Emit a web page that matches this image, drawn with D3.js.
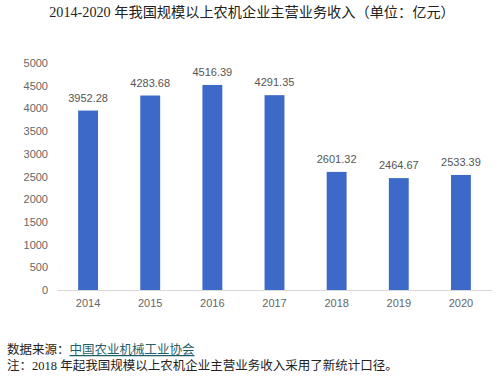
<!DOCTYPE html>
<html><head><meta charset="utf-8">
<script src="https://cdn.jsdelivr.net/npm/d3@7"></script>
<style>body{margin:0;background:#fff}svg{display:block}</style>
</head><body>
<svg id="c" width="500" height="380"></svg>
<script>
const years = ["2014","2015","2016","2017","2018","2019","2020"];
const revenue = [3952.28,4283.68,4516.39,4291.35,2601.32,2464.67,2533.39];
const yTicks = [0,500,1000,1500,2000,2500,3000,3500,4000,4500,5000];
const titleText = "2014-2020 年我国规模以上农机企业主营业务收入（单位：亿元）";
const sourceLabel = "数据来源：";
const sourceName = "中国农业机械工业协会";
const noteText = "注：2018 年起我国规模以上农机企业主营业务收入采用了新统计口径。";

const svg = d3.select("#c");
const x = d3.scaleBand().domain(years).range([57,492]).paddingInner(0.68).paddingOuter(0.34);
const y = d3.scaleLinear().domain([0,5000]).range([290,63]);
const font = "'Liberation Sans', 'Noto Sans CJK SC', sans-serif";
const serif = "'Liberation Serif', 'Noto Sans CJK SC', serif";

svg.append("text").attr("x",252).attr("y",17).attr("text-anchor","middle")
  .attr("font-family",serif).attr("font-size",14.2).attr("fill","#222").text(titleText);

const ya = svg.append("g").attr("transform","translate(48,0)")
  .call(d3.axisLeft(y).tickValues(yTicks).tickFormat(d3.format("d")).tickSize(0).tickPadding(0));
ya.select(".domain").remove();
ya.selectAll("text").attr("font-family",font).attr("font-size",11).attr("fill","#666");

const xa = svg.append("g").attr("transform","translate(0,290)")
  .call(d3.axisBottom(x).tickSize(0).tickPadding(9));
xa.select(".domain").attr("stroke","#d9d9d9");
xa.selectAll("text").attr("font-family",font).attr("font-size",11).attr("fill","#666");

svg.append("g").selectAll("rect").data(revenue).join("rect")
  .attr("x",(d,i)=>x(years[i])).attr("width",x.bandwidth())
  .attr("y",d=>y(d)).attr("height",d=>y(0)-y(d)).attr("fill","#3d69c9");

svg.append("g").selectAll("text").data(revenue).join("text")
  .attr("x",(d,i)=>x(years[i])+x.bandwidth()/2).attr("y",d=>y(d)-9)
  .attr("text-anchor","middle").attr("font-family",font).attr("font-size",11)
  .attr("fill","#555").text(d=>d.toFixed(2));

const src = svg.append("text").attr("x",7).attr("y",354).attr("font-family",serif)
  .attr("font-size",12.5).attr("fill","#222");
src.append("tspan").text(sourceLabel);
src.append("tspan").attr("fill","#1f5f6a").attr("text-decoration","underline").text(sourceName);
svg.append("text").attr("x",7).attr("y",370).attr("font-family",serif)
  .attr("font-size",12.5).attr("fill","#222").text(noteText);
</script>
</body></html>
